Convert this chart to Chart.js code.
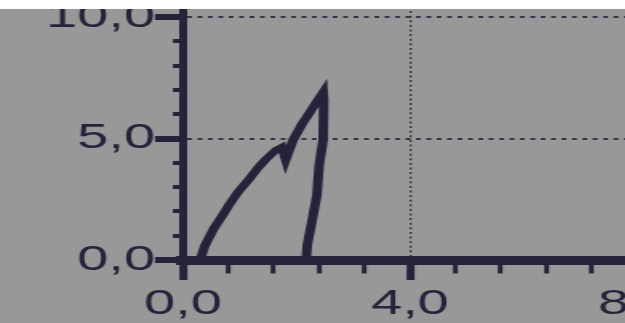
<!DOCTYPE html>
<html><head><meta charset="utf-8">
<script src="https://cdn.jsdelivr.net/npm/chart.js@4/dist/chart.umd.min.js"></script>
<style>
html,body{margin:0;padding:0;background:#ffffff;width:625px;height:323px;overflow:hidden}
#wrap{position:absolute;left:0;top:9px;width:625px;height:314px;overflow:hidden;background:#989898}
#c{position:absolute;left:0;top:-49px;transform:scaleX(1.6);transform-origin:0 0}
</style></head><body>
<div id="wrap"><canvas id="c" width="440" height="400"></canvas></div>
<script>
// data
const strainValues = [0.30,0.39,0.55,0.69,0.81,0.97,1.18,1.32,1.45,1.64,1.74,1.81,1.94,2.10,2.24,2.34,2.47,2.48,2.47,2.40,2.36,2.26,2.19,2.17];
const stressValues = [0.00,0.62,1.32,1.81,2.26,2.80,3.37,3.79,4.12,4.53,4.65,4.12,4.94,5.60,6.09,6.46,6.91,6.58,4.94,3.91,2.67,1.44,0.62,0.00];
const xMajorTicks = [0, 4, 8];
const xTickLabels = ['0,0', '4,0', '8,0'];
const yMajorTicks = [0, 5, 10];
const yTickLabels = ['0,0', '5,0', '10,0'];
const xGridValues = [4];
const yGridValues = [5, 10];

const INK = '#25233a';
const near = (a, b) => Math.abs(a - b) < 1e-6;
const isMajor = (v, arr) => arr.some(m => near(m, v));
const labelFor = (v, arr, labels) => { const i = arr.findIndex(m => near(m, v)); return i >= 0 ? labels[i] : ''; };
const tv = c => (c.tick ? c.tick.value : null);

new Chart(document.getElementById('c'), {
  type: 'scatter',
  data: {
    datasets: [{
      data: strainValues.map((x, i) => ({x: x, y: stressValues[i]})),
      showLine: true,
      borderColor: INK,
      borderWidth: 6,
      pointRadius: 0,
      borderJoinStyle: 'miter',
      tension: 0
    }]
  },
  options: {
    responsive: false,
    animation: false,
    devicePixelRatio: 1,
    layout: {padding: {left: 0, right: 41.9, top: 32.7, bottom: 0}},
    plugins: {legend: {display: false}, tooltip: {enabled: false}},
    scales: {
      x: {
        type: 'linear', min: 0, max: 8,
        afterFit: s => { s.height = 100; },
        ticks: {
          stepSize: 0.8, autoSkip: false, maxRotation: 0, minRotation: 0,
          padding: 3.5, color: INK,
          font: {family: 'Liberation Sans', size: 35},
          callback: v => labelFor(v, xMajorTicks, xTickLabels)
        },
        grid: {
          drawOnChartArea: true, drawTicks: true, tickLength: 20,
          color: c => (tv(c) !== null && isMajor(tv(c), xGridValues)) ? '#343244' : 'rgba(0,0,0,0)',
          lineWidth: 1.3,
          tickColor: INK,
          tickWidth: c => (tv(c) !== null && isMajor(tv(c), xMajorTicks)) ? 5 : 3,
          tickBorderDash: c => (tv(c) !== null && isMajor(tv(c), xMajorTicks)) ? [] : [8.5, 100]
        },
        border: {display: true, color: INK, width: 9, dash: c => (c.tick ? [2, 2.6] : [])}
      },
      y: {
        type: 'linear', min: 0, max: 11,
        afterFit: s => { s.width = 114.4; },
        ticks: {
          stepSize: 1, autoSkip: false, padding: 0, color: INK,
          font: {family: 'Liberation Sans', size: 35},
          callback: v => labelFor(v, yMajorTicks, yTickLabels)
        },
        grid: {
          drawOnChartArea: true, drawTicks: true, tickLength: 17.5,
          color: c => (tv(c) !== null && isMajor(tv(c), yGridValues)) ? '#343244' : 'rgba(0,0,0,0)',
          lineWidth: 2,
          tickColor: INK,
          tickWidth: c => (tv(c) !== null && isMajor(tv(c), yMajorTicks)) ? 6 : 4,
          tickBorderDash: c => (tv(c) !== null && isMajor(tv(c), yMajorTicks)) ? [] : [0, 11.2, 10, 100]
        },
        border: {display: true, color: INK, width: 5, dash: c => (c.tick ? [3, 3.5] : [])}
      }
    }
  }
});
</script>
</body></html>
